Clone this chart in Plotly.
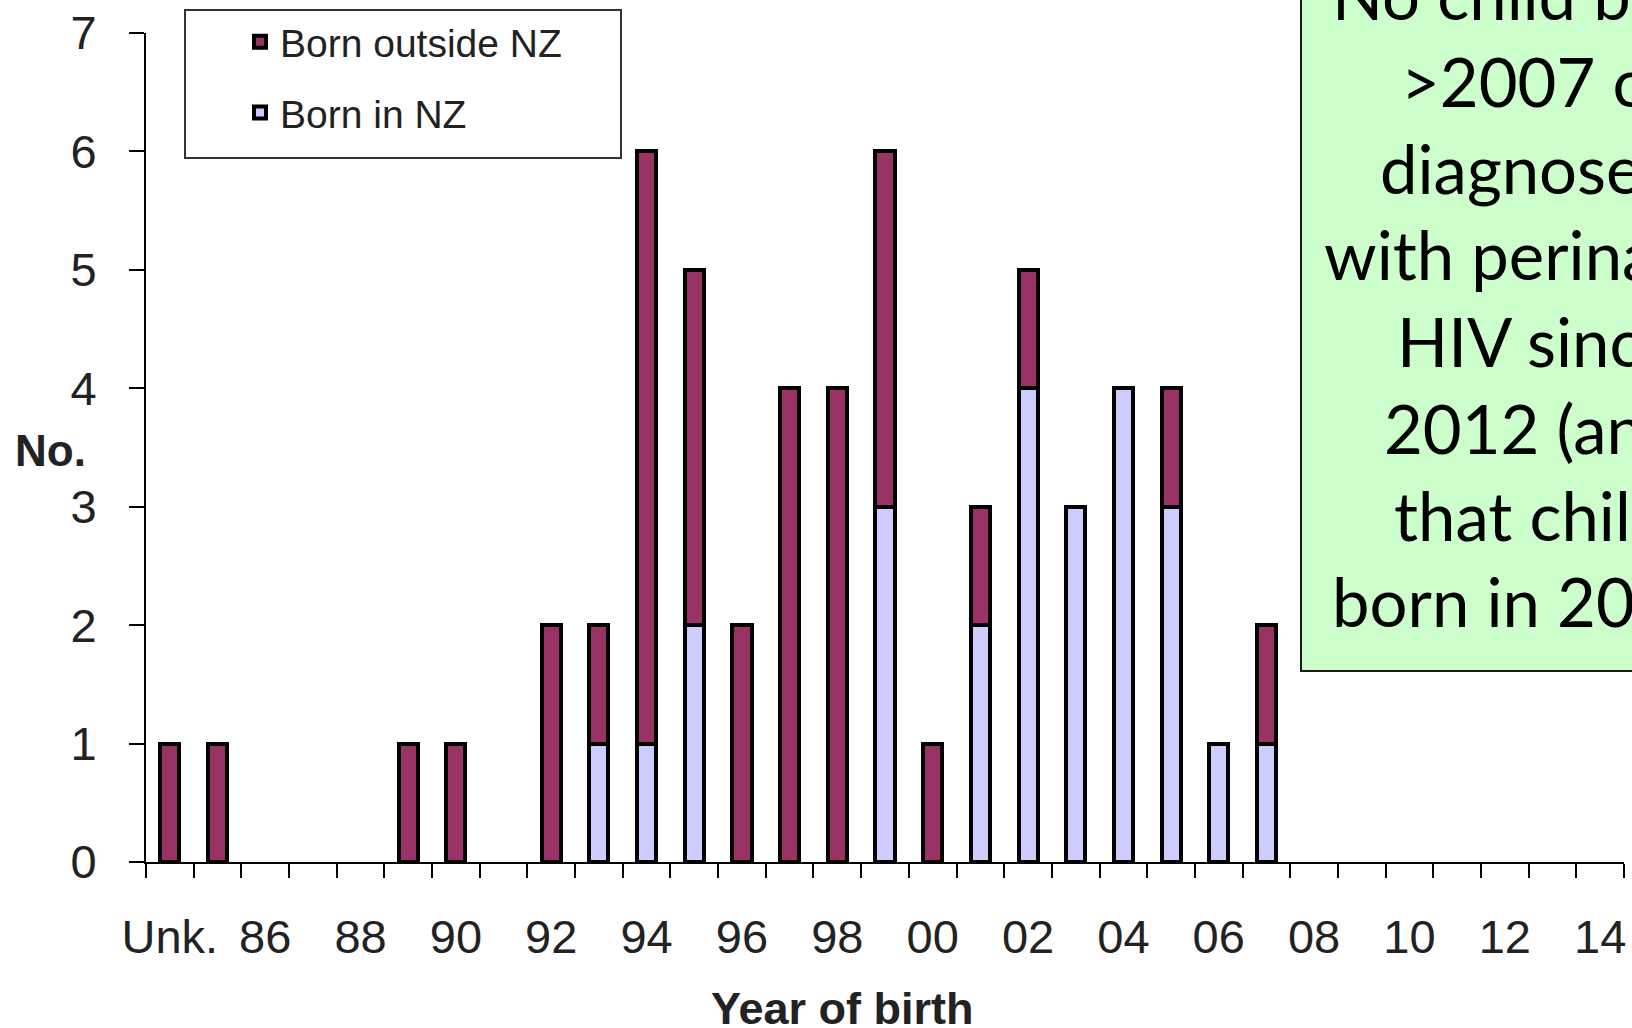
import plotly.graph_objects as go

# ---------------- data ----------------
categories = ["Unk.", "85", "86", "87", "88", "89", "90", "91", "92", "93", "94",
              "95", "96", "97", "98", "99", "00", "01", "02", "03", "04", "05",
              "06", "07", "08", "09", "10", "11", "12", "13", "14"]
tick_labels = ["Unk.", "", "86", "", "88", "", "90", "", "92", "", "94",
               "", "96", "", "98", "", "00", "", "02", "", "04", "",
               "06", "", "08", "", "10", "", "12", "", "14"]
born_in_nz = [0, 0, 0, 0, 0, 0, 0, 0, 0, 1, 1,
              2, 0, 0, 0, 3, 0, 2, 4, 3, 4, 3,
              1, 1, 0, 0, 0, 0, 0, 0, 0]
born_outside_nz = [1, 1, 0, 0, 0, 1, 1, 0, 2, 1, 5,
                   3, 2, 4, 4, 3, 1, 1, 1, 0, 0, 1,
                   0, 1, 0, 0, 0, 0, 0, 0, 0]
y_ticks = [0, 1, 2, 3, 4, 5, 6, 7]
note_lines = ["No child born", ">2007 currently", "diagnosed", "with perinatal",
              "HIV since", "2012 (and", "that child", "born in 2007)"]

# ---------------- layout constants ----------------
W, H = 1632, 1028
ML, MR, MT, MB = 146, 8, 33, 166
PW, PH = W - ML - MR, H - MT - MB


def px(xp):
    return (xp - ML) / PW


def py(yp):
    return (H - MB - yp) / PH


TICK_FONT = "Liberation Sans, Arial, sans-serif"
NOTE_FONT = "Lato, Open Sans, sans-serif"

fig = go.Figure()
fig.add_trace(go.Bar(
    x=categories, y=[v if v else None for v in born_in_nz], name="Born in NZ",
    legendgroup="nz", legendrank=2,
    marker=dict(color="#CCCCFF", line=dict(color="black", width=4)), width=0.4,
))
fig.add_trace(go.Bar(
    x=categories, y=[v if v else None for v in born_outside_nz], name="Born outside NZ",
    legendgroup="out", legendrank=1,
    marker=dict(color="#993366", line=dict(color="black", width=4)), width=0.4,
))

fig.update_layout(
    width=W, height=H, autosize=False,
    margin=dict(l=ML, r=MR, t=MT, b=MB, pad=0, autoexpand=False),
    paper_bgcolor="white", plot_bgcolor="rgba(0,0,0,0)",
    barmode="stack",
    showlegend=True,
    legend=dict(
        x=px(240), y=py(10), xanchor="left", yanchor="top",
        traceorder="grouped", tracegroupgap=17,
        bgcolor="rgba(0,0,0,0)", borderwidth=0,
        font=dict(family=TICK_FONT, size=39, color="#222"),
    ),
    xaxis=dict(
        type="category", categoryorder="array", categoryarray=categories,
        tickmode="array", tickvals=categories, ticktext=tick_labels, tickangle=0,
        tickson="boundaries", ticks="outside", ticklen=14, tickwidth=2, tickcolor="black",
        showline=True, linecolor="black", linewidth=2, showgrid=False, zeroline=False,
        range=[-0.5, len(categories) - 0.5], automargin=False,
        tickfont=dict(family=TICK_FONT, size=47, color="#222"),
        ticklabelstandoff=33,
    ),
    yaxis=dict(
        range=[0, 7], tickmode="array", tickvals=y_ticks, automargin=False,
        ticks="outside", ticklen=15, tickwidth=2, tickcolor="black",
        showline=True, linecolor="black", linewidth=2, showgrid=False, zeroline=False,
        tickfont=dict(family=TICK_FONT, size=47, color="#222"),
        ticklabelstandoff=23,
    ),
)

shapes = [
    # legend frame
    dict(type="rect", xref="paper", yref="paper", x0=px(185), x1=px(621), y0=py(158), y1=py(10),
         line=dict(color="#333", width=2), fillcolor="rgba(0,0,0,0)", layer="above"),
    # note box (extends past the page edges)
    dict(type="rect", xref="paper", yref="paper", x0=px(1301), x1=px(1760), y0=py(671), y1=py(-40),
         line=dict(color="#1a1a1a", width=2), fillcolor="#CCFFCC", layer="above"),
]
fig.update_layout(shapes=shapes)

annotations = [
    dict(text="<b>No.</b>", x=px(50), y=py(450), xref="paper", yref="paper", showarrow=False,
         xanchor="center", yanchor="middle", font=dict(family=TICK_FONT, size=44, color="#222")),
    dict(text="<b>Year of birth</b>", x=px(842), y=py(1008), xref="paper", yref="paper", showarrow=False,
         xanchor="center", yanchor="middle", font=dict(family=TICK_FONT, size=45, color="#222")),
]
line_starts = [1330, 1399, 1378, 1322, 1395, 1382, 1392, 1330]
line_centers = [-6, 81, 168, 254, 341, 428, 515, 601]
for txt, xs, yc in zip(note_lines, line_starts, line_centers):
    annotations.append(dict(text=txt, x=px(xs), y=py(yc), xref="paper", yref="paper", showarrow=False,
                            xanchor="left", yanchor="middle",
                            font=dict(family=NOTE_FONT, size=67, color="black")))
fig.update_layout(annotations=annotations)

fig.write_html("out.html", config={"displayModeBar": False},
               post_script="document.body.style.margin='0';document.body.style.overflow='hidden';")
